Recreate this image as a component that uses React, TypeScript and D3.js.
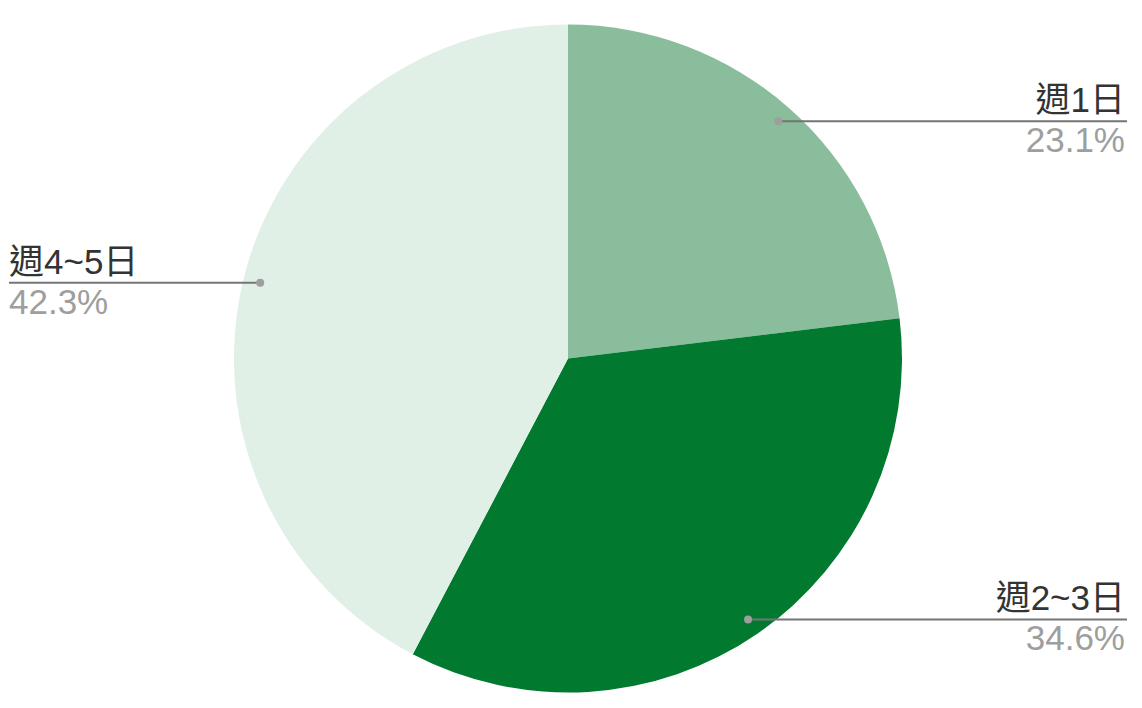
import React from "react";
import * as d3 from "d3";

const categories = ["週1日", "週2~3日", "週4~5日"];
const values = [6, 9, 11];
const colors = ["#89bd9b", "#017a30", "#e0f0e6"];

const W = 1142;
const H = 708;

export default function App() {
  const cx = 568;
  const cy = 358.5;
  const R = 334;
  const total = d3.sum(values);
  const pie = d3.pie<number>().sort(null).value((d) => d);
  const arcs = pie(values);
  const arc = d3.arc<d3.PieArcDatum<number>>().innerRadius(0).outerRadius(R);
  const fmt = d3.format(".1%");
  const font = "'Liberation Sans', Arial, 'Noto Sans CJK TC', 'Noto Sans CJK JP', sans-serif";
  const fs = 35;
  const rDot = 317;
  return (
    <svg
      width={W}
      height={H}
      style={{ position: "absolute", left: 0, top: 0, display: "block" }}
    >
      <rect width={W} height={H} fill="#ffffff" />
      <g transform={`translate(${cx},${cy})`}>
        {arcs.map((a, i) => (
          <path key={i} d={arc(a) || ""} fill={colors[i]} />
        ))}
      </g>
      {arcs.map((a, i) => {
        const mid = (a.startAngle + a.endAngle) / 2;
        const x = cx + rDot * Math.sin(mid);
        const y = cy - rDot * Math.cos(mid);
        const right = Math.sin(mid) > 0;
        const xEnd = right ? 1127 : 9;
        const anchor = right ? "end" : "start";
        const tx = right ? xEnd - 2 : xEnd;
        return (
          <g key={i}>
            <line x1={x} y1={y} x2={xEnd} y2={y} stroke="#757575" strokeWidth={2} />
            <circle cx={x} cy={y} r={4} fill="#9e9e9e" />
            <text
              x={tx}
              y={y - 9}
              textAnchor={anchor}
              fontFamily={font}
              fontSize={fs}
              fill="#333333"
            >
              {categories[i]}
            </text>
            <text
              x={tx}
              y={y + 31}
              textAnchor={anchor}
              fontFamily={font}
              fontSize={fs}
              fill="#9e9e9e"
            >
              {fmt(values[i] / total)}
            </text>
          </g>
        );
      })}
    </svg>
  );
}
